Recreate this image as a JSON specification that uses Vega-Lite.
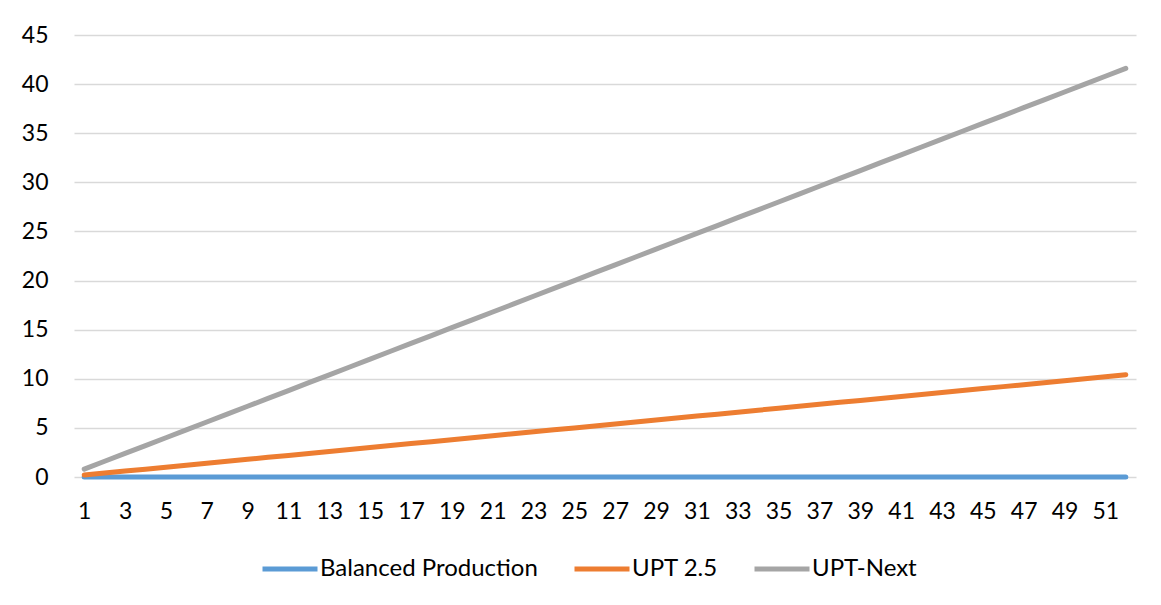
{
  "$schema": "https://vega.github.io/schema/vega-lite/v6.json",
  "width": 1062,
  "height": 442,
  "autosize": {"type": "none"},
  "padding": {"left": 74, "top": 35, "right": 25, "bottom": 128},
  "background": "white",
  "config": {
    "view": {"stroke": null},
    "font": "Lato",
    "axis": {"labelFont": "Lato", "labelFontSize": 23, "labelColor": "#000000"},
    "legend": {"labelFont": "Lato", "labelFontSize": 24, "labelColor": "#000000", "labelLimit": 500}
  },
  "data": {"values": [
    {"w":1,"s":"Balanced Production","v":0},{"w":2,"s":"Balanced Production","v":0},{"w":3,"s":"Balanced Production","v":0},{"w":4,"s":"Balanced Production","v":0},{"w":5,"s":"Balanced Production","v":0},{"w":6,"s":"Balanced Production","v":0},{"w":7,"s":"Balanced Production","v":0},{"w":8,"s":"Balanced Production","v":0},{"w":9,"s":"Balanced Production","v":0},{"w":10,"s":"Balanced Production","v":0},
    {"w":11,"s":"Balanced Production","v":0},{"w":12,"s":"Balanced Production","v":0},{"w":13,"s":"Balanced Production","v":0},{"w":14,"s":"Balanced Production","v":0},{"w":15,"s":"Balanced Production","v":0},{"w":16,"s":"Balanced Production","v":0},{"w":17,"s":"Balanced Production","v":0},{"w":18,"s":"Balanced Production","v":0},{"w":19,"s":"Balanced Production","v":0},{"w":20,"s":"Balanced Production","v":0},
    {"w":21,"s":"Balanced Production","v":0},{"w":22,"s":"Balanced Production","v":0},{"w":23,"s":"Balanced Production","v":0},{"w":24,"s":"Balanced Production","v":0},{"w":25,"s":"Balanced Production","v":0},{"w":26,"s":"Balanced Production","v":0},{"w":27,"s":"Balanced Production","v":0},{"w":28,"s":"Balanced Production","v":0},{"w":29,"s":"Balanced Production","v":0},{"w":30,"s":"Balanced Production","v":0},
    {"w":31,"s":"Balanced Production","v":0},{"w":32,"s":"Balanced Production","v":0},{"w":33,"s":"Balanced Production","v":0},{"w":34,"s":"Balanced Production","v":0},{"w":35,"s":"Balanced Production","v":0},{"w":36,"s":"Balanced Production","v":0},{"w":37,"s":"Balanced Production","v":0},{"w":38,"s":"Balanced Production","v":0},{"w":39,"s":"Balanced Production","v":0},{"w":40,"s":"Balanced Production","v":0},
    {"w":41,"s":"Balanced Production","v":0},{"w":42,"s":"Balanced Production","v":0},{"w":43,"s":"Balanced Production","v":0},{"w":44,"s":"Balanced Production","v":0},{"w":45,"s":"Balanced Production","v":0},{"w":46,"s":"Balanced Production","v":0},{"w":47,"s":"Balanced Production","v":0},{"w":48,"s":"Balanced Production","v":0},{"w":49,"s":"Balanced Production","v":0},{"w":50,"s":"Balanced Production","v":0},
    {"w":51,"s":"Balanced Production","v":0},{"w":52,"s":"Balanced Production","v":0},
    {"w":1,"s":"UPT 2.5","v":0.2},{"w":2,"s":"UPT 2.5","v":0.4},{"w":3,"s":"UPT 2.5","v":0.6},{"w":4,"s":"UPT 2.5","v":0.8},{"w":5,"s":"UPT 2.5","v":1.0},{"w":6,"s":"UPT 2.5","v":1.2},{"w":7,"s":"UPT 2.5","v":1.4},{"w":8,"s":"UPT 2.5","v":1.6},{"w":9,"s":"UPT 2.5","v":1.8},{"w":10,"s":"UPT 2.5","v":2.0},
    {"w":11,"s":"UPT 2.5","v":2.2},{"w":12,"s":"UPT 2.5","v":2.4},{"w":13,"s":"UPT 2.5","v":2.6},{"w":14,"s":"UPT 2.5","v":2.8},{"w":15,"s":"UPT 2.5","v":3.0},{"w":16,"s":"UPT 2.5","v":3.2},{"w":17,"s":"UPT 2.5","v":3.4},{"w":18,"s":"UPT 2.5","v":3.6},{"w":19,"s":"UPT 2.5","v":3.8},{"w":20,"s":"UPT 2.5","v":4.0},
    {"w":21,"s":"UPT 2.5","v":4.2},{"w":22,"s":"UPT 2.5","v":4.4},{"w":23,"s":"UPT 2.5","v":4.6},{"w":24,"s":"UPT 2.5","v":4.8},{"w":25,"s":"UPT 2.5","v":5.0},{"w":26,"s":"UPT 2.5","v":5.2},{"w":27,"s":"UPT 2.5","v":5.4},{"w":28,"s":"UPT 2.5","v":5.6},{"w":29,"s":"UPT 2.5","v":5.8},{"w":30,"s":"UPT 2.5","v":6.0},
    {"w":31,"s":"UPT 2.5","v":6.2},{"w":32,"s":"UPT 2.5","v":6.4},{"w":33,"s":"UPT 2.5","v":6.6},{"w":34,"s":"UPT 2.5","v":6.8},{"w":35,"s":"UPT 2.5","v":7.0},{"w":36,"s":"UPT 2.5","v":7.2},{"w":37,"s":"UPT 2.5","v":7.4},{"w":38,"s":"UPT 2.5","v":7.6},{"w":39,"s":"UPT 2.5","v":7.8},{"w":40,"s":"UPT 2.5","v":8.0},
    {"w":41,"s":"UPT 2.5","v":8.2},{"w":42,"s":"UPT 2.5","v":8.4},{"w":43,"s":"UPT 2.5","v":8.6},{"w":44,"s":"UPT 2.5","v":8.8},{"w":45,"s":"UPT 2.5","v":9.0},{"w":46,"s":"UPT 2.5","v":9.2},{"w":47,"s":"UPT 2.5","v":9.4},{"w":48,"s":"UPT 2.5","v":9.6},{"w":49,"s":"UPT 2.5","v":9.8},{"w":50,"s":"UPT 2.5","v":10.0},
    {"w":51,"s":"UPT 2.5","v":10.2},{"w":52,"s":"UPT 2.5","v":10.4},
    {"w":1,"s":"UPT-Next","v":0.8},{"w":2,"s":"UPT-Next","v":1.6},{"w":3,"s":"UPT-Next","v":2.4},{"w":4,"s":"UPT-Next","v":3.2},{"w":5,"s":"UPT-Next","v":4.0},{"w":6,"s":"UPT-Next","v":4.8},{"w":7,"s":"UPT-Next","v":5.6},{"w":8,"s":"UPT-Next","v":6.4},{"w":9,"s":"UPT-Next","v":7.2},{"w":10,"s":"UPT-Next","v":8.0},
    {"w":11,"s":"UPT-Next","v":8.8},{"w":12,"s":"UPT-Next","v":9.6},{"w":13,"s":"UPT-Next","v":10.4},{"w":14,"s":"UPT-Next","v":11.2},{"w":15,"s":"UPT-Next","v":12.0},{"w":16,"s":"UPT-Next","v":12.8},{"w":17,"s":"UPT-Next","v":13.6},{"w":18,"s":"UPT-Next","v":14.4},{"w":19,"s":"UPT-Next","v":15.2},{"w":20,"s":"UPT-Next","v":16.0},
    {"w":21,"s":"UPT-Next","v":16.8},{"w":22,"s":"UPT-Next","v":17.6},{"w":23,"s":"UPT-Next","v":18.4},{"w":24,"s":"UPT-Next","v":19.2},{"w":25,"s":"UPT-Next","v":20.0},{"w":26,"s":"UPT-Next","v":20.8},{"w":27,"s":"UPT-Next","v":21.6},{"w":28,"s":"UPT-Next","v":22.4},{"w":29,"s":"UPT-Next","v":23.2},{"w":30,"s":"UPT-Next","v":24.0},
    {"w":31,"s":"UPT-Next","v":24.8},{"w":32,"s":"UPT-Next","v":25.6},{"w":33,"s":"UPT-Next","v":26.4},{"w":34,"s":"UPT-Next","v":27.2},{"w":35,"s":"UPT-Next","v":28.0},{"w":36,"s":"UPT-Next","v":28.8},{"w":37,"s":"UPT-Next","v":29.6},{"w":38,"s":"UPT-Next","v":30.4},{"w":39,"s":"UPT-Next","v":31.2},{"w":40,"s":"UPT-Next","v":32.0},
    {"w":41,"s":"UPT-Next","v":32.8},{"w":42,"s":"UPT-Next","v":33.6},{"w":43,"s":"UPT-Next","v":34.4},{"w":44,"s":"UPT-Next","v":35.2},{"w":45,"s":"UPT-Next","v":36.0},{"w":46,"s":"UPT-Next","v":36.8},{"w":47,"s":"UPT-Next","v":37.6},{"w":48,"s":"UPT-Next","v":38.4},{"w":49,"s":"UPT-Next","v":39.2},{"w":50,"s":"UPT-Next","v":40.0},
    {"w":51,"s":"UPT-Next","v":40.8},{"w":52,"s":"UPT-Next","v":41.6}
  ]},
  "mark": {"type": "line", "strokeWidth": 5, "strokeCap": "round", "strokeJoin": "round"},
  "encoding": {
    "x": {
      "field": "w", "type": "quantitative",
      "scale": {"domain": [0.5, 52.5], "nice": false, "zero": false},
      "axis": {
        "title": null, "grid": false, "ticks": false, "domain": false,
        "values": [1,3,5,7,9,11,13,15,17,19,21,23,25,27,29,31,33,35,37,39,41,43,45,47,49,51],
        "labelPadding": 23, "labelFlush": false, "labelOverlap": false
      }
    },
    "y": {
      "field": "v", "type": "quantitative",
      "scale": {"domain": [0, 45], "nice": false},
      "axis": {
        "title": null, "ticks": false, "domain": false,
        "values": [0,5,10,15,20,25,30,35,40,45],
        "gridColor": "#D9D9D9", "gridWidth": 1.5,
        "labelPadding": 26
      }
    },
    "color": {
      "field": "s", "type": "nominal",
      "scale": {"domain": ["Balanced Production", "UPT 2.5", "UPT-Next"], "range": ["#5B9BD5", "#ED7D31", "#A5A5A5"]},
      "legend": {
        "title": null, "orient": "none", "direction": "horizontal",
        "legendX": 186, "legendY": 504,
        "symbolType": "stroke", "symbolSize": 3025, "symbolStrokeWidth": 5,
        "labelOffset": 0, "columnPadding": 26
      }
    }
  }
}
